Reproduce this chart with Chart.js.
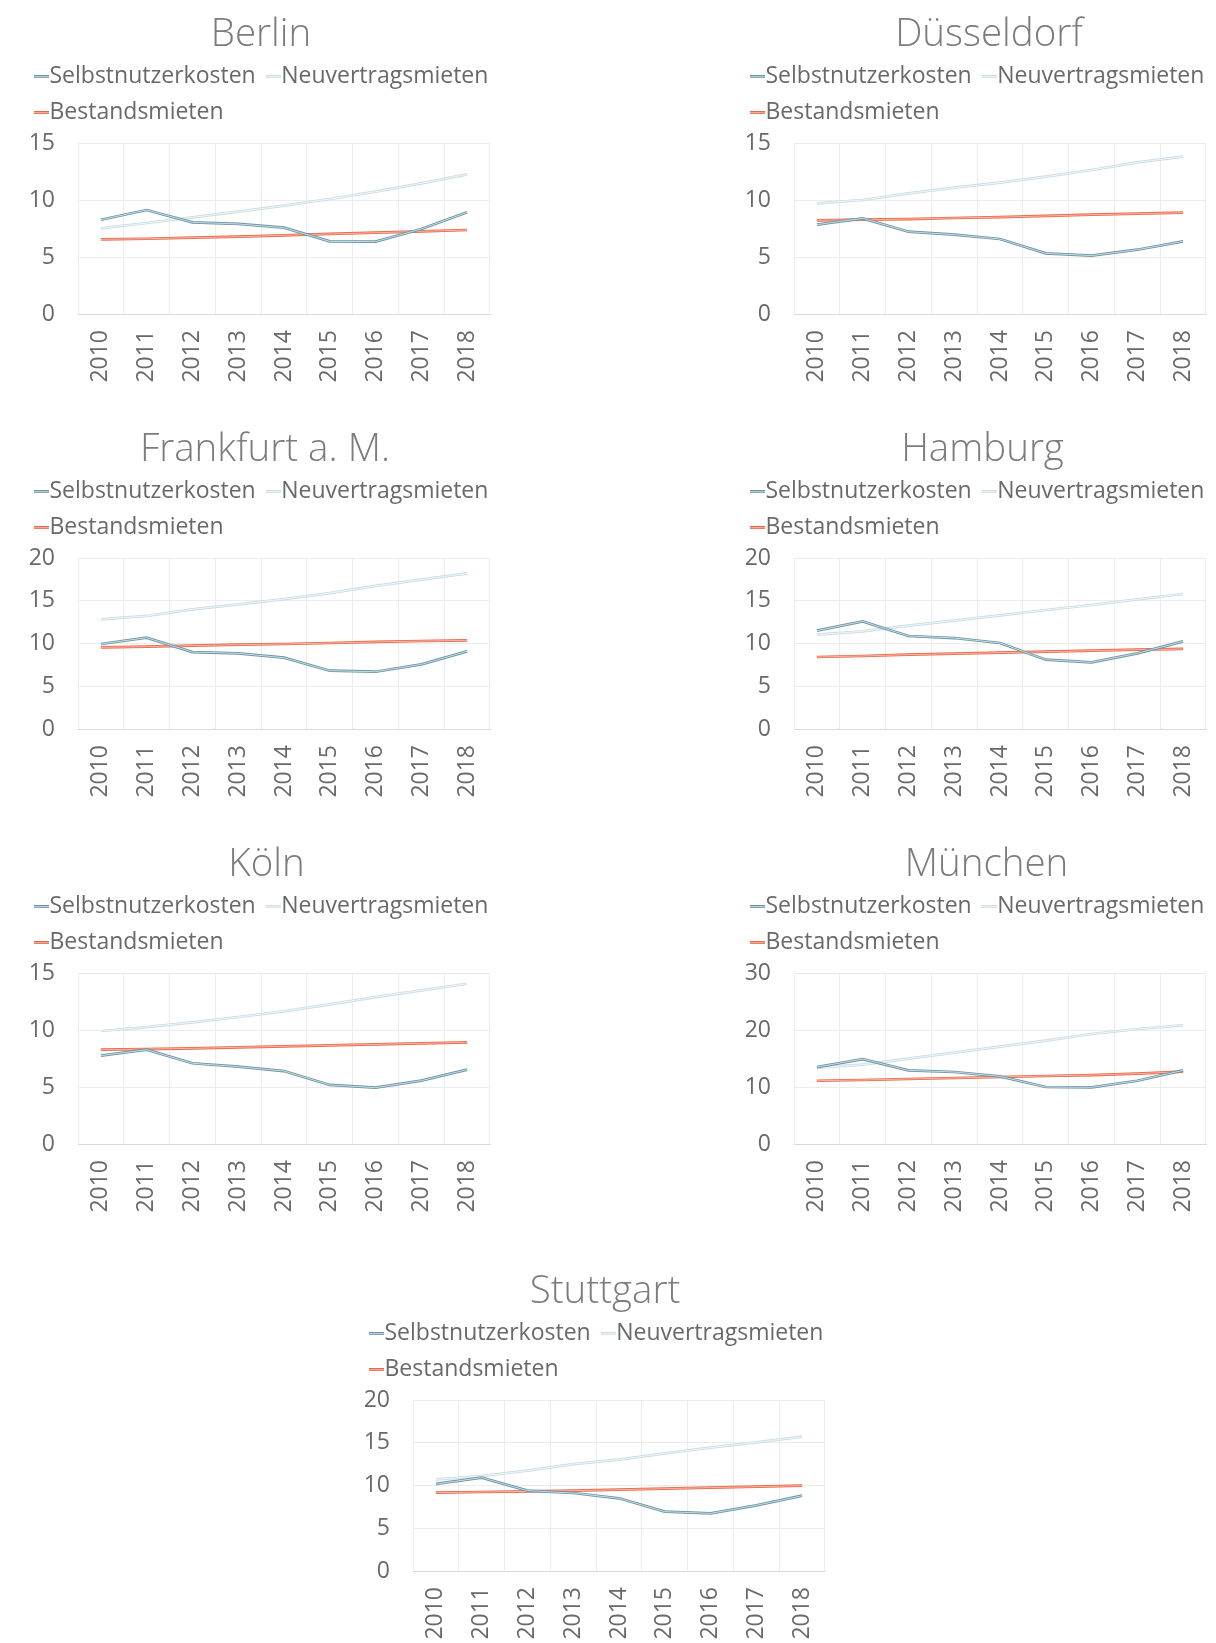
<!DOCTYPE html>
<html lang="de">
<head>
<meta charset="utf-8">
<title>Selbstnutzerkosten, Neuvertrags- und Bestandsmieten 2010–2018</title>
<script src="https://cdn.jsdelivr.net/npm/chart.js@4/dist/chart.umd.min.js"></script>
<style>
  html, body { margin: 0; padding: 0; background: #ffffff; }
  body { position: relative; width: 1216px; height: 1643px; overflow: hidden; }
  canvas { position: absolute; }
</style>
</head>
<body>
<script>
// ---- data -------------------------------------------------------------
const years = ['2010', '2011', '2012', '2013', '2014', '2015', '2016', '2017', '2018'];
const seriesNames = ['Selbstnutzerkosten', 'Neuvertragsmieten', 'Bestandsmieten'];
const cityNames = ['Berlin', 'Düsseldorf', 'Frankfurt a. M.', 'Hamburg', 'Köln', 'München', 'Stuttgart'];
const yAxisMax = [15, 15, 20, 20, 15, 30, 20];
const yAxisStep = [5, 5, 5, 5, 5, 10, 5];

const berlinSelbstnutzer = [8.27, 9.12, 8.04, 7.90, 7.57, 6.37, 6.35, 7.46, 8.92];
const berlinNeuvertrag   = [7.51, 7.98, 8.48, 8.98, 9.50, 10.09, 10.73, 11.46, 12.25];
const berlinBestand      = [6.55, 6.60, 6.70, 6.78, 6.90, 7.02, 7.13, 7.25, 7.37];

const duesseldorfSelbstnutzer = [7.84, 8.39, 7.22, 6.96, 6.58, 5.32, 5.12, 5.64, 6.37];
const duesseldorfNeuvertrag   = [9.71, 10.00, 10.58, 11.08, 11.52, 12.05, 12.63, 13.30, 13.80];
const duesseldorfBestand      = [8.22, 8.27, 8.33, 8.42, 8.50, 8.60, 8.71, 8.80, 8.89];

const frankfurtSelbstnutzer = [9.94, 10.68, 9.00, 8.85, 8.34, 6.82, 6.70, 7.56, 9.08];
const frankfurtNeuvertrag   = [12.83, 13.22, 14.00, 14.58, 15.20, 15.90, 16.73, 17.47, 18.20];
const frankfurtBestand      = [9.55, 9.63, 9.75, 9.86, 9.94, 10.06, 10.18, 10.29, 10.37];

const hamburgSelbstnutzer = [11.50, 12.59, 10.88, 10.64, 10.06, 8.11, 7.80, 8.85, 10.25];
const hamburgNeuvertrag   = [11.03, 11.42, 12.09, 12.67, 13.29, 13.92, 14.50, 15.17, 15.79];
const hamburgBestand      = [8.42, 8.54, 8.69, 8.81, 8.93, 9.04, 9.16, 9.28, 9.36];

const koelnSelbstnutzer = [7.75, 8.27, 7.08, 6.78, 6.40, 5.18, 4.94, 5.56, 6.52];
const koelnNeuvertrag   = [9.91, 10.26, 10.67, 11.14, 11.64, 12.25, 12.89, 13.48, 14.06];
const koelnBestand      = [8.27, 8.33, 8.39, 8.48, 8.57, 8.65, 8.74, 8.83, 8.92];

const muenchenSelbstnutzer = [13.50, 14.90, 12.92, 12.63, 11.87, 10.00, 9.94, 11.10, 12.92];
const muenchenNeuvertrag   = [13.39, 13.92, 14.97, 16.02, 17.08, 18.13, 19.30, 20.18, 20.82];
const muenchenBestand      = [11.10, 11.23, 11.40, 11.58, 11.75, 11.93, 12.10, 12.34, 12.69];

const stuttgartSelbstnutzer = [10.18, 10.92, 9.40, 9.12, 8.50, 6.94, 6.74, 7.68, 8.81];
const stuttgartNeuvertrag   = [10.72, 11.11, 11.73, 12.51, 13.02, 13.76, 14.42, 15.05, 15.71];
const stuttgartBestand      = [9.16, 9.24, 9.32, 9.40, 9.51, 9.63, 9.75, 9.86, 9.98];

const citySeries = [
  [berlinSelbstnutzer, berlinNeuvertrag, berlinBestand],
  [duesseldorfSelbstnutzer, duesseldorfNeuvertrag, duesseldorfBestand],
  [frankfurtSelbstnutzer, frankfurtNeuvertrag, frankfurtBestand],
  [hamburgSelbstnutzer, hamburgNeuvertrag, hamburgBestand],
  [koelnSelbstnutzer, koelnNeuvertrag, koelnBestand],
  [muenchenSelbstnutzer, muenchenNeuvertrag, muenchenBestand],
  [stuttgartSelbstnutzer, stuttgartNeuvertrag, stuttgartBestand]
];

// ---- layout & style ---------------------------------------------------
const panelLeft = [24, 740, 24, 740, 24, 740, 359];
const panelTop  = [2, 2, 417, 417, 832, 832, 1259];
const titleShift = [-2, 10, 2, 3.5, 3.5, 7.5, 7];
const PANEL_W = 478, PANEL_H = 382;

const FONT = "'Open Sans', 'Noto Sans', sans-serif";
const TEXT_GREY = '#696969';
// each series is drawn as a double line: outer stroke + light core
const outerColors = ['#6994a5', '#cadce4', '#e8684b'];
const innerColors = ['#d3e3e9', '#f4f8fa', '#f8bfae'];

// legend swatch: a short double line sitting in the right part of the image
function doubleLineMarker(outer, inner) {
  const c = document.createElement('canvas');
  c.width = 23; c.height = 3;
  const g = c.getContext('2d');
  g.fillStyle = outer; g.fillRect(8, 0, 15, 3);
  g.fillStyle = inner; g.fillRect(8, 1, 15, 1);
  return c;
}
const markers = outerColors.map((c, i) => doubleLineMarker(c, innerColors[i]));

// extra room between legend and plot
const legendGap = {
  id: 'legendGap',
  beforeInit(chart) {
    const fit = chart.legend.fit;
    chart.legend.fit = function () { fit.call(this); this.height += 8.75; };
  }
};

// horizontal nudge of the chart title
const titleNudge = {
  id: 'titleNudge',
  afterLayout(chart, args, opts) {
    const t = chart.titleBlock;
    if (t && opts.dx) { t.left += opts.dx; t.right += opts.dx; }
  }
};

cityNames.forEach((city, ci) => {
  const canvas = document.createElement('canvas');
  canvas.width = PANEL_W; canvas.height = PANEL_H;
  canvas.style.left = panelLeft[ci] + 'px';
  canvas.style.top = panelTop[ci] + 'px';
  document.body.appendChild(canvas);

  const series = citySeries[ci];
  const datasets = [];
  series.forEach((values, si) => {
    datasets.push({
      label: seriesNames[si], data: values, borderColor: outerColors[si],
      borderWidth: 2.7, pointRadius: 0, tension: 0, fill: false, order: 2 * si + 1
    });
  });
  series.forEach((values, si) => {
    datasets.push({
      label: '', data: values, borderColor: innerColors[si],
      borderWidth: 0.9, pointRadius: 0, tension: 0, fill: false, order: 2 * si, core: true
    });
  });

  new Chart(canvas, {
    type: 'line',
    data: { labels: years, datasets },
    plugins: [legendGap, titleNudge],
    options: {
      responsive: false,
      animation: false,
      events: [],
      layout: { padding: 0 },
      plugins: {
        tooltip: { enabled: false },
        titleNudge: { dx: titleShift[ci] },
        title: {
          display: true, text: city, color: '#7c7c7c',
          font: { family: FONT, size: 38.5, weight: 300, lineHeight: 0.9 },
          padding: { top: 15.6, bottom: 0 }
        },
        legend: {
          display: true, position: 'top', align: 'start',
          labels: {
            color: TEXT_GREY, usePointStyle: true, pointStyleWidth: 1, padding: 13,
            font: { family: FONT, size: 23 },
            filter: (item, data) => !data.datasets[item.datasetIndex].core,
            generateLabels(chart) {
              const items = Chart.defaults.plugins.legend.labels.generateLabels(chart);
              items.forEach(it => { it.pointStyle = markers[it.datasetIndex % 3]; });
              return items;
            }
          }
        }
      },
      scales: {
        x: {
          offset: true,
          grid: { display: true, offset: true, color: '#ececec', lineWidth: 1, drawTicks: false },
          border: { display: true, color: '#d9d9d9' },
          ticks: {
            color: TEXT_GREY, font: { family: FONT, size: 23 },
            minRotation: 90, maxRotation: 90, autoSkip: false, padding: 16
          },
          afterFit(scale) { scale.paddingLeft = 0; scale.paddingRight = 12; scale.height = 70; }
        },
        y: {
          min: 0, max: yAxisMax[ci],
          grid: { color: '#ececec', lineWidth: 1, drawTicks: false },
          border: { display: false },
          ticks: {
            stepSize: yAxisStep[ci], color: TEXT_GREY,
            font: { family: FONT, size: 23 }, padding: 23
          },
          afterFit(scale) { scale.width = 54; }
        }
      }
    }
  });
});
</script>
</body>
</html>
